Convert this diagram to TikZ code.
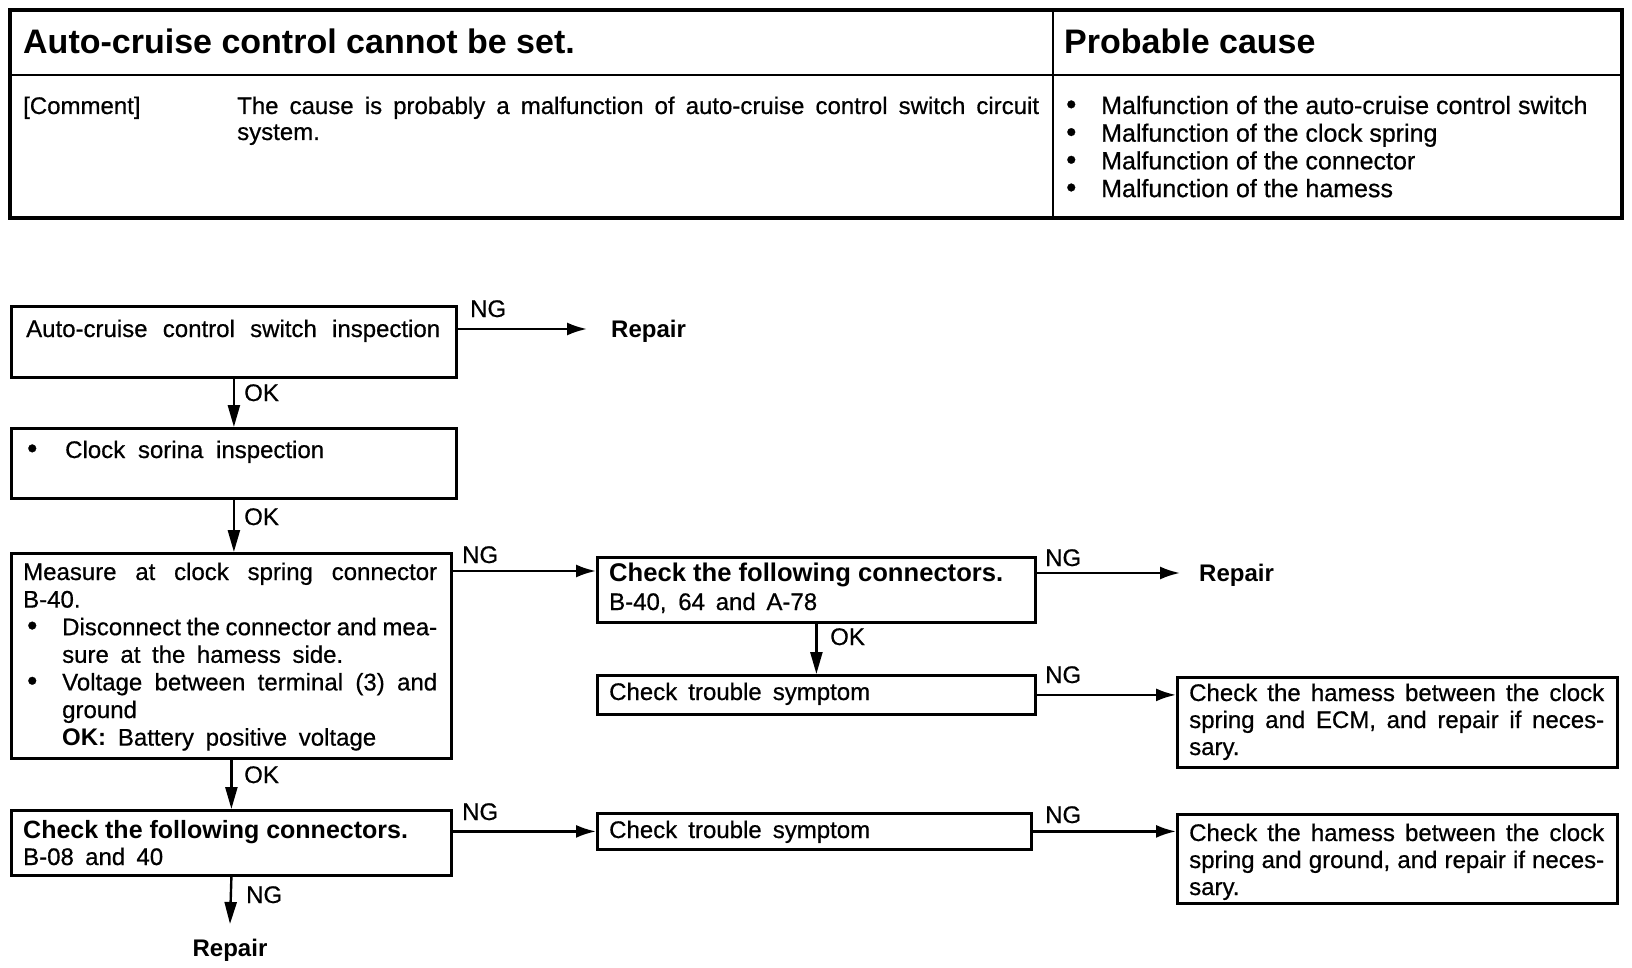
\documentclass[tikz,border=0pt]{standalone}
\usepackage{fontspec}
\setmainfont{Liberation Sans}[UprightFeatures={FakeBold=0.6}]
\usetikzlibrary{arrows.meta}
\newcommand{\bul}{{\fontsize{29}{0}\selectfont\textbullet}}
\begin{document}
\begin{tikzpicture}[x=1pt,y=-1pt,
  fbox/.style={draw, line width=2.8pt, anchor=north west, inner sep=0pt},
  txt/.style={anchor=base west, inner sep=0pt, font=\fontsize{24}{27.6}\selectfont},
  lbl/.style={anchor=base west, inner sep=0pt, font=\fontsize{24}{27}\selectfont},
  ttl/.style={anchor=base west, inner sep=0pt, font=\fontsize{34}{40}\selectfont\bfseries},
  rep/.style={inner sep=0pt, text height=17pt, text depth=0pt, font=\fontsize{24}{27}\selectfont\bfseries},
  conn/.style={line width=2.4pt},
  varr/.style={conn, -{Triangle[length=22pt,width=12pt]}},
  harr/.style={conn, -{Latex[length=20pt,width=13pt]}}
]
\fill[white] (0,0) rectangle (1632,968);
\useasboundingbox (0,0) rectangle (1632,968);

% ---------- table ----------
\draw[line width=3.2pt] (10,10) rectangle (1622,218);
\draw[line width=2.6pt] (10,75) -- (1622,75);
\draw[line width=2.6pt] (1053,10) -- (1053,218);
\node[ttl] (title) at (23,54) {Auto-cruise control cannot be set.};
\node[ttl] (pc) at (1064,54) {Probable cause};
\node[txt] (cm) at (23,114) {[Comment]};
\node[txt, font=\fontsize{24}{26}\selectfont] (cmt) at (237,114)
  {\parbox[t]{802pt}{\makebox[802pt][s]{The cause is probably a malfunction of auto-cruise control switch circuit}\\system.}};
\node[txt, font=\fontsize{25}{27.7}\selectfont] (list) at (1066,114)
  {\parbox[t]{540pt}{\makebox[35pt][l]{\bul}Malfunction of the auto-cruise control switch\\
   \makebox[35pt][l]{\bul}Malfunction of the clock spring\\
   \makebox[35pt][l]{\bul}Malfunction of the connector\\
   \makebox[35pt][l]{\bul}Malfunction of the hamess}};

% ---------- boxes ----------
\node[fbox, minimum width=445pt, minimum height=71pt] (b1) at (10,305) {};
\node[txt] (t1) at (26,337) {\makebox[414pt][s]{Auto-cruise control switch inspection}};

\node[fbox, minimum width=445pt, minimum height=70pt] (b2) at (10,427) {};
\node[txt] (t2) at (23,458) {\makebox[42pt][l]{\hspace{4pt}\bul}\makebox[259pt][s]{Clock sorina inspection}};

\node[fbox, minimum width=440pt, minimum height=205pt] (b3) at (10,552) {};
\node[txt] (t3) at (23,580)
  {\parbox[t]{414pt}{\makebox[414pt][s]{Measure at clock spring connector}\\
   B-40.\\
   \makebox[39pt][l]{\hspace{4pt}\bul}\makebox[375pt][s]{Disconnect the connector and mea-}\\
   \hspace*{39pt}\makebox[281pt][s]{sure at the hamess side.}\\
   \makebox[39pt][l]{\hspace{4pt}\bul}\makebox[375pt][s]{Voltage between terminal (3) and}\\
   \hspace*{39pt}ground\\
   \hspace*{39pt}\makebox[314pt][s]{\textbf{OK:} Battery positive voltage}}};

\node[fbox, minimum width=438pt, minimum height=65pt] (b4) at (596,556) {};
\node[txt, font=\fontsize{24}{29}\selectfont] (t4) at (609,581)
  {\parbox[t]{420pt}{{\fontsize{25.6}{29}\selectfont\bfseries Check the following connectors.}\\\makebox[208pt][s]{B-40, 64 and A-78}}};

\node[fbox, minimum width=438pt, minimum height=39pt] (b5) at (596,674) {};
\node[txt] (t5) at (609,700) {\makebox[261pt][s]{Check trouble symptom}};

\node[fbox, minimum width=440pt, minimum height=90pt] (b6) at (1176,676) {};
\node[txt, font=\fontsize{24}{27}\selectfont] (t6) at (1189,701)
  {\parbox[t]{415pt}{\makebox[415pt][s]{Check the hamess between the clock}\\
   \makebox[415pt][s]{spring and ECM, and repair if neces-}\\
   sary.}};

\node[fbox, minimum width=440pt, minimum height=65pt] (b7) at (10,809) {};
\node[txt, font=\fontsize{24}{27}\selectfont] (t7) at (23,838)
  {\parbox[t]{420pt}{{\fontsize{25}{27}\selectfont\bfseries Check the following connectors.}\\\makebox[140pt][s]{B-08 and 40}}};

\node[fbox, minimum width=434pt, minimum height=36pt] (b8) at (596,812) {};
\node[txt] (t8) at (609,838) {\makebox[261pt][s]{Check trouble symptom}};

\node[fbox, minimum width=440pt, minimum height=89pt] (b9) at (1176,813) {};
\node[txt, font=\fontsize{24}{27}\selectfont] (t9) at (1189,841)
  {\parbox[t]{415pt}{\makebox[415pt][s]{Check the hamess between the clock}\\
   \makebox[415pt][s]{spring and ground, and repair if neces-}\\
   sary.}};

% ---------- repair targets ----------
\node[rep, anchor=west, inner xsep=24pt] (r1) at (587,329) {Repair};
\node[rep, anchor=west, inner xsep=19pt] (r2) at (1180,573) {Repair};
\node[rep, anchor=north, inner ysep=15pt] (r3) at (230,924) {Repair};

% ---------- labels ----------
\node[lbl] (ng1) at (470,317) {NG};
\node[lbl] (ok1) at (244,401) {OK};
\node[lbl] (ok2) at (244,525) {OK};
\node[lbl] (ng2) at (462,563) {NG};
\node[lbl] (ng3) at (1045,566) {NG};
\node[lbl] (ok3) at (830,645) {OK};
\node[lbl] (ng4) at (1045,683) {NG};
\node[lbl] (ok4) at (244,783) {OK};
\node[lbl] (ng5) at (462,820) {NG};
\node[lbl] (ng6) at (1045,823) {NG};
\node[lbl] (ng7) at (246,903) {NG};

% ---------- connectors ----------
\draw[harr] (b1.east |- r1.west) -- (r1.west);
\draw[varr] (b1.south) -- (b1.south |- b2.north);
\draw[varr] (b2.south) -- (b2.south |- b3.north);
\draw[harr] (b3.east |- 0,571) -- (b4.west |- 0,571);
\draw[harr] (b4.east |- r2.west) -- (r2.west);
\draw[varr] (b4.south) -- (b5.north);
\draw[harr] (b5.east) -- (b5.east -| b6.west);
\draw[varr] (b3.south) -- (b3.south |- b7.north);
\draw[harr] (b7.east |- b8.west) -- (b8.west);
\draw[harr] (b8.east) -- (b8.east -| b9.west);
\draw[varr] (b7.south) -- (r3.north);
\end{tikzpicture}
\end{document}
